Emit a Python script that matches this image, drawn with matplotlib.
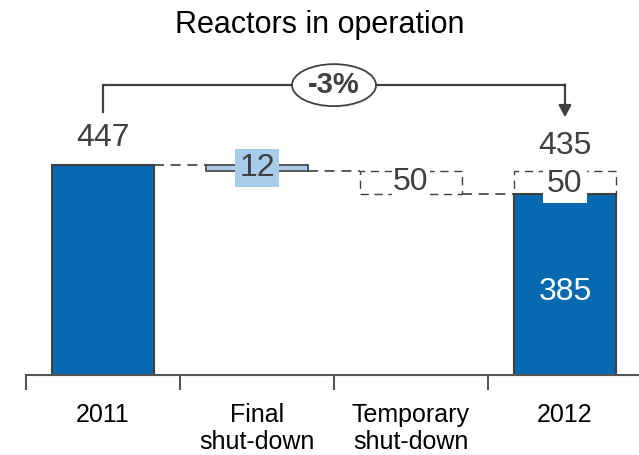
import matplotlib
matplotlib.use("Agg")
import matplotlib.pyplot as plt
from matplotlib.patches import Ellipse

plt.rcParams['font.family'] = ['Liberation Sans', 'DejaVu Sans']

# data
categories = ['2011', 'Final\nshut-down', 'Temporary\nshut-down', '2012']
start_value = 447
final_shutdown = 12
temporary_shutdown = 50
end_total = 435
end_operating = 385
change_label = '-3%'

dark_blue = '#0769B0'
light_blue = '#A9CCEC'
edge = '#404040'

fig = plt.figure(figsize=(6.39, 4.55), dpi=100)
ax = fig.add_axes([26/639, 80/455, 1 - 26/639, 375/455])
ax.set_xlim(-0.5, (639 - 26) / 154 - 0.5)
ax.set_ylim(0, 375 / 0.4698)

w = 0.66
x = [0, 1, 2, 3]

# bars
ax.bar(x[0], start_value, w, color=dark_blue, edgecolor=edge, lw=1.5, zorder=2)
ax.bar(x[1], final_shutdown, w, bottom=start_value - final_shutdown,
       color=light_blue, edgecolor=edge, lw=1.2, zorder=2)
ax.bar(x[2], temporary_shutdown, w, bottom=end_total - temporary_shutdown,
       fill=False, edgecolor=edge, lw=1.0, ls=(0, (6, 4)), zorder=2)
ax.bar(x[3], end_operating, w, color=dark_blue, edgecolor=edge, lw=1.5, zorder=2)
ax.bar(x[3], end_total - end_operating, w, bottom=end_operating,
       fill=False, edgecolor=edge, lw=1.0, ls=(0, (6, 4)), zorder=2)

# connectors
dash = dict(color=edge, lw=1.2, ls=(0, (6, 4)), zorder=1)
ax.plot([x[0] + w/2, x[1] - w/2], [start_value, start_value], **dash)
ax.plot([x[1] + w/2, x[2] - w/2], [end_total, end_total], **dash)
ax.plot([x[2] + w/2, x[3] - w/2], [end_operating, end_operating], **dash)

# value labels
big = 23
ax.text(x[0], 505, str(start_value), ha='center', va='center', fontsize=big, color=edge)
ax.text(x[3], 488, str(end_total), ha='center', va='center', fontsize=big, color=edge)
ax.text(x[1], start_value - final_shutdown/2, str(final_shutdown), ha='center', va='center',
        fontsize=big, color=edge, zorder=4,
        bbox=dict(facecolor=light_blue, edgecolor='none', boxstyle='square,pad=0.12'))
ax.text(x[2], end_total - temporary_shutdown/2, str(temporary_shutdown), ha='center', va='center',
        fontsize=big, color=edge, zorder=4,
        bbox=dict(facecolor='white', edgecolor='none', boxstyle='square,pad=0.05'))
ax.text(x[3], end_operating + (end_total - end_operating)/2 - 4, str(end_total - end_operating),
        ha='center', va='center', fontsize=big, color=edge, zorder=4,
        bbox=dict(facecolor='white', edgecolor='none', boxstyle='square,pad=0.12'))
ax.text(x[3], end_operating * 0.46, str(end_operating), ha='center', va='center',
        fontsize=big, color='white', zorder=4)

# bracket with change
ytop = 617
ax.plot([x[0], x[0], x[3]], [560, ytop, ytop], color=edge, lw=1.6, zorder=3,
        solid_joinstyle='miter')
ax.annotate('', xy=(x[3], 549), xytext=(x[3], ytop + 1.5),
            arrowprops=dict(arrowstyle='-|>,head_length=0.7,head_width=0.38',
                            color=edge, lw=1.6, shrinkA=0, shrinkB=0), zorder=3)
ax.add_patch(Ellipse((1.5, ytop), 84/154, 42/0.4698, facecolor='white',
                     edgecolor=edge, lw=1.3, zorder=4))
ax.text(1.5, ytop, change_label, ha='center', va='center', fontsize=21,
        fontweight='bold', color=edge, zorder=5)

# axis
for s in ['left', 'top', 'right']:
    ax.spines[s].set_visible(False)
ax.spines['bottom'].set_color('#555555')
ax.spines['bottom'].set_linewidth(1.5)
ax.set_yticks([])
ax.set_xticks([-0.5, 0.5, 1.5, 2.5])
ax.set_xticklabels([])
ax.tick_params(axis='x', direction='out', length=11, width=1.5, color='#555555')
for xi, c in zip(x, categories):
    ax.text(xi, -28/0.4698, c, ha='center', va='top', fontsize=18,
            color='black', linespacing=1.15)

fig.text(0.5, 1 - 25/455, 'Reactors in operation', ha='center', va='center',
         fontsize=22, color='black')

fig.savefig('out.png', dpi=100)
